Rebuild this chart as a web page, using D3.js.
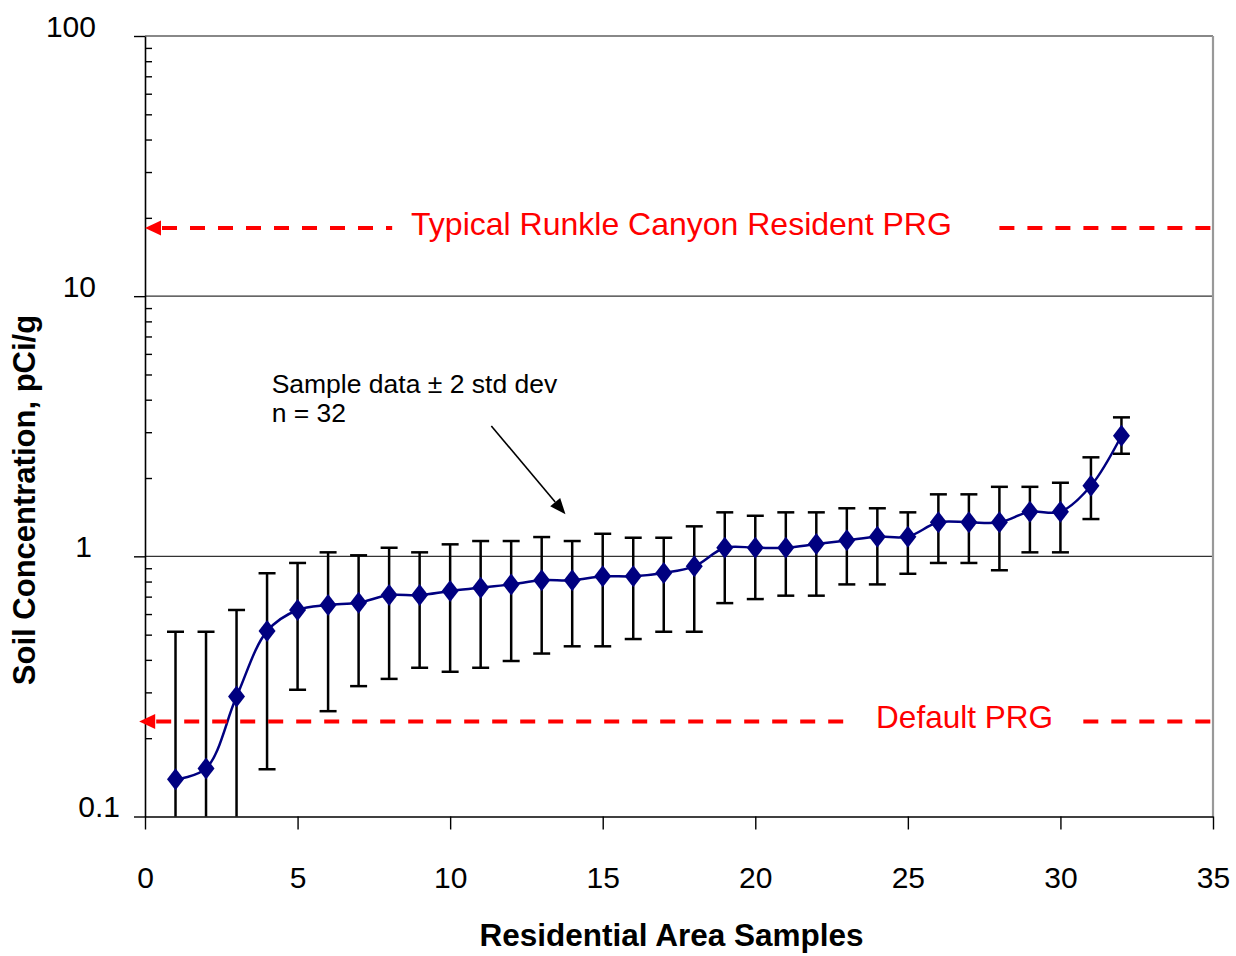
<!DOCTYPE html>
<html>
<head>
<meta charset="utf-8">
<script src="https://cdn.jsdelivr.net/npm/d3@7"></script>
<style>
  body { margin: 0; background: #fff; }
  svg { display: block; font-family: "Liberation Sans", Arial, sans-serif; }
</style>
</head>
<body>
<div id="chart"></div>
<script>
// Sample number (x) and soil concentration, pCi/g, with +/- 2 std dev bounds
const samples = [1, 2, 3, 4, 5, 6, 7, 8, 9, 10, 11, 12, 13, 14, 15, 16,
                 17, 18, 19, 20, 21, 22, 23, 24, 25, 26, 27, 28, 29, 30, 31, 32];
const means = [0.139, 0.153, 0.289, 0.516, 0.622, 0.650, 0.663, 0.710, 0.710, 0.736, 0.757,
               0.780, 0.809, 0.809, 0.838, 0.838, 0.863, 0.915, 1.079, 1.079, 1.079, 1.115,
               1.152, 1.190, 1.190, 1.351, 1.351, 1.351, 1.484, 1.484, 1.868, 2.908];
const upper = [0.513, 0.513, 0.622, 0.861, 0.943, 1.036, 1.009, 1.079, 1.036, 1.112, 1.145,
               1.145, 1.186, 1.145, 1.221, 1.179, 1.179, 1.304, 1.476, 1.432, 1.476, 1.476,
               1.530, 1.530, 1.476, 1.731, 1.731, 1.850, 1.850, 1.918, 2.402, 3.421];
// first three lower bounds fall below the axis (clipped)
const lower = [0.05, 0.05, 0.05, 0.152, 0.307, 0.254, 0.317, 0.338, 0.373, 0.360, 0.373,
               0.396, 0.423, 0.451, 0.451, 0.481, 0.513, 0.513, 0.661, 0.685, 0.706, 0.706,
               0.780, 0.780, 0.857, 0.943, 0.943, 0.884, 1.036, 1.036, 1.391, 2.479];

const prgLabels = ['Typical Runkle Canyon Resident PRG', 'Default PRG'];
const prgValues = [18.3, 0.232];

const xTicks = [0, 5, 10, 15, 20, 25, 30, 35];
const yTicks = [0.1, 1, 10, 100];
const yTickLabels = ['0.1', '1', '10', '100'];

const xTitle = 'Residential Area Samples';
const yTitle = 'Soil Concentration, pCi/g';
const noteLines = ['Sample data \u00b1 2 std dev', 'n = 32'];

const width = 1236, height = 956;
const margin = {top: 36, right: 23, bottom: 139.5, left: 145};

const svg = d3.select('#chart').append('svg')
    .attr('width', width)
    .attr('height', height);

svg.append('rect').attr('width', width).attr('height', height).attr('fill', '#fff');

const x = d3.scaleLinear().domain([0, 35]).range([margin.left, width - margin.right]);
const y = d3.scaleLog().domain([0.1, 100]).range([height - margin.bottom, margin.top]);

const data = samples.map((s, i) => ({s: s, m: means[i], lo: lower[i], hi: upper[i]}));

svg.append('clipPath').attr('id', 'plot-clip')
  .append('rect')
    .attr('x', x(0)).attr('y', y(100))
    .attr('width', x(35) - x(0)).attr('height', y(0.1) - y(100));

// gridlines at 1 and 10, border at 100 and right side
svg.selectAll('.grid')
    .data([1, 10])
  .join('line')
    .attr('class', 'grid')
    .attr('x1', x(0)).attr('x2', x(35))
    .attr('y1', d => y(d)).attr('y2', d => y(d))
    .attr('stroke', '#333').attr('stroke-width', 1.4);

svg.append('line')
    .attr('x1', x(0)).attr('x2', x(35))
    .attr('y1', y(100)).attr('y2', y(100))
    .attr('stroke', '#888').attr('stroke-width', 2);

svg.append('line')
    .attr('x1', x(35)).attr('x2', x(35))
    .attr('y1', y(100)).attr('y2', y(0.1))
    .attr('stroke', '#999').attr('stroke-width', 2.2);

// axes
const xAxis = svg.append('g')
    .attr('transform', `translate(0,${y(0.1)})`)
    .call(d3.axisBottom(x).tickValues(xTicks).tickSize(13).tickSizeOuter(0).tickPadding(37));

const yAxis = svg.append('g')
    .attr('transform', `translate(${x(0)},0)`)
    .call(d3.axisLeft(y).tickValues(yTicks).tickSize(11).tickSizeOuter(0).tickPadding(38)
      .tickFormat((d, i) => yTickLabels[i]));

const minorTicks = [];
[0.1, 1, 10].forEach(dec => { for (let k = 2; k <= 9; k++) minorTicks.push(k * dec); });
svg.append('g')
    .attr('transform', `translate(${x(0)},0)`)
    .call(d3.axisRight(y).tickValues(minorTicks).tickSize(7).tickFormat(''))
    .call(g => g.select('.domain').remove());

[xAxis, yAxis].forEach(g => {
  g.select('.domain').attr('stroke', '#000').attr('stroke-width', 1.6);
  g.selectAll('.tick text')
      .attr('fill', '#000')
      .style('font-size', '30px')
      .style('font-family', '"Liberation Sans", Arial, sans-serif');
});
svg.selectAll('.tick line').attr('stroke', '#000').attr('stroke-width', 1.4);

// y labels sit on their tick, Excel-like uneven placement
const yLabelShift = {0.1: 24, 1: -4, 10: 0, 100: 0};
yAxis.selectAll('.tick text')
    .attr('dy', '0')
    .attr('dx', d => yLabelShift[d]);

// error bars
const bars = svg.append('g').attr('clip-path', 'url(#plot-clip)')
    .attr('stroke', '#000').attr('stroke-width', 2.5);

bars.selectAll('.eb')
    .data(data)
  .join('line')
    .attr('class', 'eb')
    .attr('x1', d => x(d.s)).attr('x2', d => x(d.s))
    .attr('y1', d => y(d.lo)).attr('y2', d => y(d.hi));

const capW = 8.5;
bars.selectAll('.cap-hi')
    .data(data)
  .join('line')
    .attr('class', 'cap-hi')
    .attr('x1', d => x(d.s) - capW).attr('x2', d => x(d.s) + capW)
    .attr('y1', d => y(d.hi)).attr('y2', d => y(d.hi));

bars.selectAll('.cap-lo')
    .data(data)
  .join('line')
    .attr('class', 'cap-lo')
    .attr('x1', d => x(d.s) - capW).attr('x2', d => x(d.s) + capW)
    .attr('y1', d => y(d.lo)).attr('y2', d => y(d.lo));

// smoothed series line
const line = d3.line()
    .x(d => x(d.s))
    .y(d => y(d.m))
    .curve(d3.curveCatmullRom.alpha(0.5));

svg.append('path')
    .datum(data)
    .attr('d', line)
    .attr('fill', 'none')
    .attr('stroke', '#000080')
    .attr('stroke-width', 2.5);

svg.selectAll('.marker')
    .data(data)
  .join('path')
    .attr('class', 'marker')
    .attr('transform', d => `translate(${x(d.s)},${y(d.m)})`)
    .attr('d', 'M0,-11L8.5,0L0,11L-8.5,0Z')
    .attr('fill', '#000080');

// PRG reference lines (dashed red with arrow, label in a gap)
const prgLayout = [
  {tip: 0, gapFrom: 8.1, gapTo: 28.0, textAt: 8.72, size: 32},
  {tip: -0.19, gapFrom: 23.0, gapTo: 30.75, textAt: 23.96, size: 31.5}
];

prgValues.forEach((v, i) => {
  const L = prgLayout[i];
  const yy = y(v);
  const tipX = x(L.tip);
  const g = svg.append('g');
  g.append('path')
      .attr('d', `M${tipX},${yy}L${tipX + 16},${yy - 7.5}L${tipX + 16},${yy + 7.5}Z`)
      .attr('fill', '#ff0000');
  const segs = [[tipX + 17, x(L.gapFrom)], [x(L.gapTo), x(35)]];
  segs.forEach(sg => {
    g.append('line')
        .attr('x1', sg[0]).attr('x2', sg[1])
        .attr('y1', yy).attr('y2', yy)
        .attr('stroke', '#ff0000')
        .attr('stroke-width', 4)
        .attr('stroke-dasharray', '15,13');
  });
  g.append('text')
      .attr('x', x(L.textAt))
      .attr('y', yy)
      .attr('dy', '0.22em')
      .attr('fill', '#ff0000')
      .style('font-size', L.size + 'px')
      .text(prgLabels[i]);
});

// annotation
const note = svg.append('text')
    .attr('x', x(4.15))
    .attr('y', y(4.24))
    .attr('fill', '#000')
    .style('font-size', '26.5px');
note.selectAll('tspan')
    .data(noteLines)
  .join('tspan')
    .attr('x', x(4.15))
    .attr('dy', (d, i) => i === 0 ? 0 : 29)
    .text(d => d);

const a0 = [x(11.35), y(3.17)], a1 = [x(13.78), y(1.45)];
const ang = Math.atan2(a1[1] - a0[1], a1[0] - a0[0]);
const headL = 16, headW = 6.5;
const bx = a1[0] - headL * Math.cos(ang), by = a1[1] - headL * Math.sin(ang);
svg.append('line')
    .attr('x1', a0[0]).attr('y1', a0[1])
    .attr('x2', bx).attr('y2', by)
    .attr('stroke', '#000').attr('stroke-width', 1.6);
svg.append('path')
    .attr('d', `M${a1[0]},${a1[1]}` +
      `L${bx + headW * Math.sin(ang)},${by - headW * Math.cos(ang)}` +
      `L${bx - headW * Math.sin(ang)},${by + headW * Math.cos(ang)}Z`)
    .attr('fill', '#000');

// axis titles
svg.append('text')
    .attr('x', 671.5)
    .attr('y', 946)
    .attr('text-anchor', 'middle')
    .style('font-size', '31.5px')
    .style('font-weight', 'bold')
    .text(xTitle);

svg.append('text')
    .attr('transform', 'translate(35,500) rotate(-90)')
    .attr('text-anchor', 'middle')
    .style('font-size', '31px')
    .style('font-weight', 'bold')
    .text(yTitle);
</script>
</body>
</html>
